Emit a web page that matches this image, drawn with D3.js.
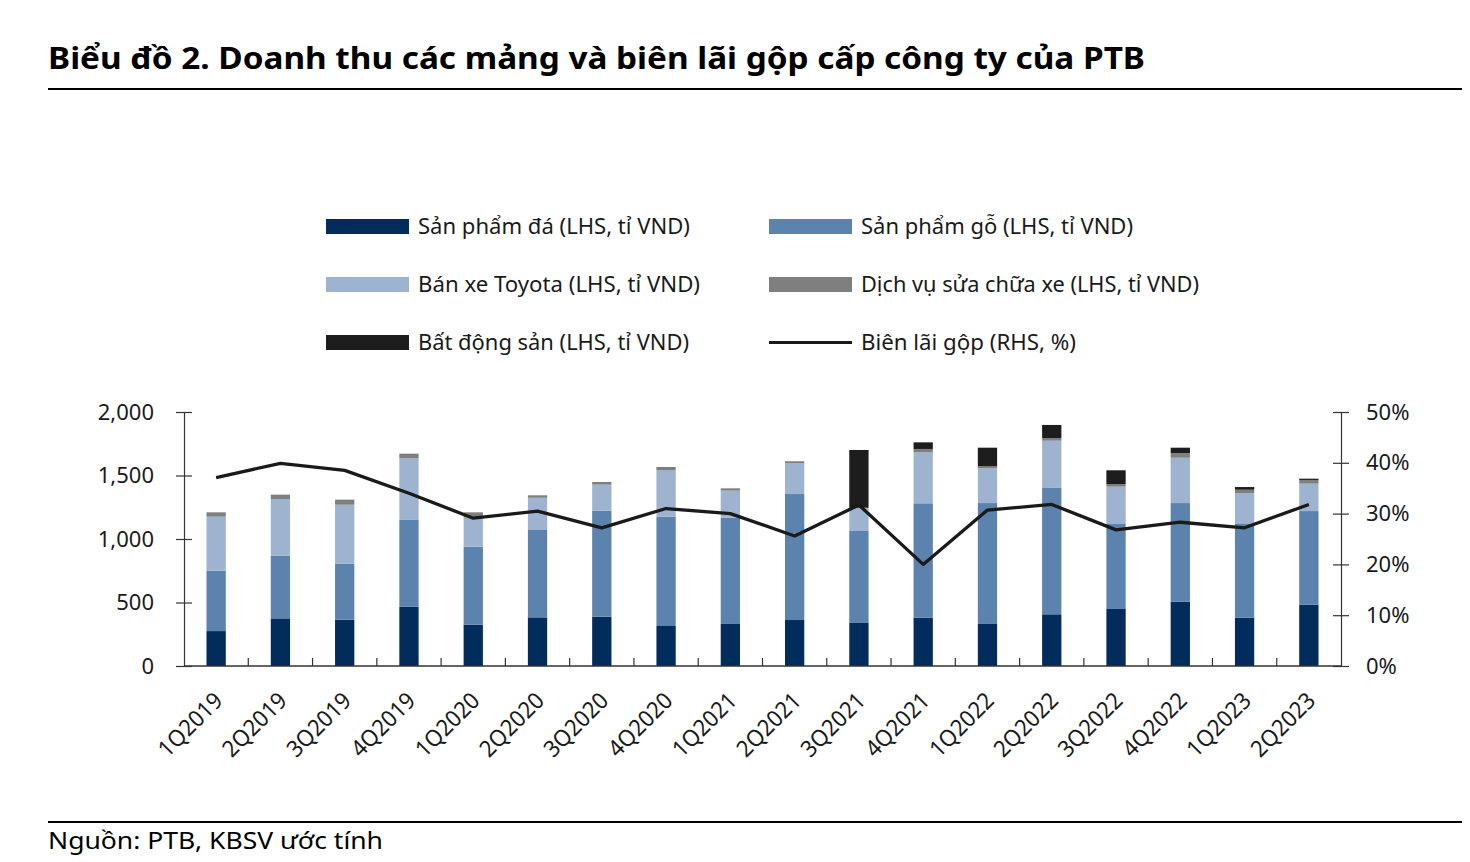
<!DOCTYPE html>
<html>
<head>
<meta charset="utf-8">
<script src="https://cdn.jsdelivr.net/npm/d3@7/dist/d3.min.js"></script>
<style>
  html, body { margin: 0; padding: 0; background: #fff; }
  svg { display: block; }
  text { font-family: "Noto Sans", "Open Sans", sans-serif; fill: #1a1a1a; }
</style>
</head>
<body>
<svg id="chart" width="1470" height="862"></svg>
<script>
// ---- Data ----
const categories = ["1Q2019","2Q2019","3Q2019","4Q2019","1Q2020","2Q2020","3Q2020","4Q2020","1Q2021","2Q2021","3Q2021","4Q2021","1Q2022","2Q2022","3Q2022","4Q2022","1Q2023","2Q2023"];
const stoneProducts   = [275, 375, 365, 467, 325, 383, 388, 315, 331, 362, 339, 381, 331, 407, 449, 506, 381, 483];
const woodProducts    = [475, 494, 441, 683, 615, 688, 835, 861, 837, 992, 724, 900, 952, 995, 669, 777, 742, 737];
const toyotaSales     = [426, 446, 464, 485, 231, 254, 205, 367, 213, 242, 178, 401, 273, 372, 294, 357, 237, 216];
const repairServices  = [34, 34, 40, 37, 39, 19, 21, 24, 18, 16, 5, 27, 16, 21, 21, 37, 28, 29];
const realEstate      = [0, 0, 0, 0, 0, 0, 0, 0, 0, 0, 455, 52, 147, 103, 108, 42, 21, 10];
const grossMargin     = [37.1, 39.9, 38.5, 34.0, 29.1, 30.5, 27.2, 31.0, 30.0, 25.6, 31.7, 20.0, 30.7, 31.8, 26.8, 28.3, 27.2, 31.8];
const leftTicks  = [0, 500, 1000, 1500, 2000];
const rightTicks = [0, 10, 20, 30, 40, 50];

const seriesNames = ["Sản phẩm đá (LHS, tỉ VND)", "Sản phẩm gỗ (LHS, tỉ VND)", "Bán xe Toyota (LHS, tỉ VND)", "Dịch vụ sửa chữa xe (LHS, tỉ VND)", "Bất động sản (LHS, tỉ VND)"];
const lineName = "Biên lãi gộp (RHS, %)";
const titleText = "Biểu đồ 2. Doanh thu các mảng và biên lãi gộp cấp công ty của PTB";
const sourceText = "Nguồn: PTB, KBSV ước tính";

// ---- Styles ----
const colors = ["#012c5c", "#5b83ad", "#9db3cf", "#7f7f7f", "#1d1d1d"];
const lineColor = "#1a1a1a";

const svg = d3.select("#chart");

// Title & rules
svg.append("text").attr("x", 48).attr("y", 69)
  .attr("font-size", 31).attr("font-weight", "bold")
  .attr("textLength", 1097).attr("lengthAdjust", "spacingAndGlyphs")
  .style("fill", "#000").text(titleText);
svg.append("line").attr("x1", 48).attr("x2", 1462).attr("y1", 89).attr("y2", 89)
  .attr("stroke", "#000").attr("stroke-width", 2);
svg.append("line").attr("x1", 48).attr("x2", 1462).attr("y1", 822).attr("y2", 822)
  .attr("stroke", "#000").attr("stroke-width", 2);
svg.append("text").attr("x", 48).attr("y", 849)
  .attr("font-size", 23)
  .attr("textLength", 335).attr("lengthAdjust", "spacingAndGlyphs")
  .style("fill", "#000").text(sourceText);

// Scales
const x0 = 184, x1 = 1341, yTop = 412, yBase = 666;
const x = d3.scaleBand().domain(categories).range([x0, x1]).paddingInner(0.7).paddingOuter(0.35);
const yL = d3.scaleLinear().domain([0, 2000]).range([yBase, yTop]);
const yR = d3.scaleLinear().domain([0, 50]).range([yBase, yTop]);

// Stacked bars
const rows = categories.map((c, i) => ({
  cat: c, s0: stoneProducts[i], s1: woodProducts[i], s2: toyotaSales[i], s3: repairServices[i], s4: realEstate[i]
}));
const stack = d3.stack().keys(["s0", "s1", "s2", "s3", "s4"]);
const stacked = stack(rows);

svg.append("g").selectAll("g").data(stacked).join("g")
  .attr("fill", (d, i) => colors[i])
  .selectAll("rect").data(d => d).join("rect")
  .attr("x", d => x(d.data.cat))
  .attr("width", x.bandwidth())
  .attr("y", d => yL(d[1]))
  .attr("height", d => Math.max(0, yL(d[0]) - yL(d[1])));

// Line
const line = d3.line()
  .x((d, i) => x(categories[i]) + x.bandwidth() / 2)
  .y(d => yR(d));
svg.append("path").datum(grossMargin)
  .attr("d", line).attr("fill", "none")
  .attr("stroke", lineColor).attr("stroke-width", 3.3).attr("stroke-linejoin", "round");

// Left axis
const gL = svg.append("g").attr("transform", `translate(${x0},0)`)
  .call(d3.axisLeft(yL).tickValues(leftTicks).tickFormat(d3.format(",")).tickSizeInner(8).tickSizeOuter(0).tickPadding(22));
gL.select(".domain").attr("stroke", "#333").attr("stroke-width", 1.2);
gL.selectAll(".tick line").attr("x1", 8).attr("stroke", "#333").attr("stroke-width", 1.2);
gL.selectAll(".tick text").attr("font-size", 22).style("font-family", '"Noto Sans", sans-serif').style("fill", "#1a1a1a");

// Right axis
const gR = svg.append("g").attr("transform", `translate(${x1},0)`)
  .call(d3.axisRight(yR).tickValues(rightTicks).tickFormat(d => d + "%").tickSizeInner(8).tickSizeOuter(0).tickPadding(17));
gR.select(".domain").attr("stroke", "#333").attr("stroke-width", 1.2);
gR.selectAll(".tick line").attr("x1", -8).attr("stroke", "#333").attr("stroke-width", 1.2);
gR.selectAll(".tick text").attr("font-size", 22).style("font-family", '"Noto Sans", sans-serif').style("fill", "#1a1a1a");

// X axis baseline & separator ticks
svg.append("line").attr("x1", x0).attr("x2", x1).attr("y1", yBase).attr("y2", yBase)
  .attr("stroke", "#333").attr("stroke-width", 1.5);
const gap = (x.step() - x.bandwidth()) / 2;
svg.append("g").selectAll("line").data(categories.slice(1)).join("line")
  .attr("x1", d => x(d) - gap).attr("x2", d => x(d) - gap)
  .attr("y1", yBase).attr("y2", yBase - 8)
  .attr("stroke", "#333").attr("stroke-width", 1.2);

// X labels (rotated)
svg.append("g").selectAll("text").data(categories).join("text")
  .attr("transform", d => `translate(${x(d) + x.bandwidth() / 2 + 8},${yBase + 36}) rotate(-45)`)
  .attr("text-anchor", "end")
  .attr("font-size", 23)
  .attr("textLength", 80).attr("lengthAdjust", "spacingAndGlyphs")
  .text(d => d);

// Legend
const legendItems = [
  { name: seriesNames[0], color: colors[0], type: "rect", col: 0, row: 0, w: 272 },
  { name: seriesNames[1], color: colors[1], type: "rect", col: 1, row: 0, w: 272 },
  { name: seriesNames[2], color: colors[2], type: "rect", col: 0, row: 1, w: 282 },
  { name: seriesNames[3], color: colors[3], type: "rect", col: 1, row: 1, w: 338 },
  { name: seriesNames[4], color: colors[4], type: "rect", col: 0, row: 2, w: 271 },
  { name: lineName, color: lineColor, type: "line", col: 1, row: 2, w: 215 }
];
const colX = [326, 769];
const rowY = [226.5, 284.5, 342.5];
const lg = svg.append("g").selectAll("g").data(legendItems).join("g")
  .attr("transform", d => `translate(${colX[d.col]},${rowY[d.row]})`);
lg.filter(d => d.type === "rect").append("rect")
  .attr("x", 0).attr("y", -7.5).attr("width", 83).attr("height", 15).attr("fill", d => d.color);
lg.filter(d => d.type === "line").append("line")
  .attr("x1", 0).attr("x2", 83).attr("y1", 0).attr("y2", 0)
  .attr("stroke", d => d.color).attr("stroke-width", 3);
lg.append("text").attr("x", 92).attr("y", 7.5)
  .attr("font-size", 21.5)
  .attr("textLength", d => d.w).attr("lengthAdjust", "spacingAndGlyphs")
  .text(d => d.name);
</script>
</body>
</html>
